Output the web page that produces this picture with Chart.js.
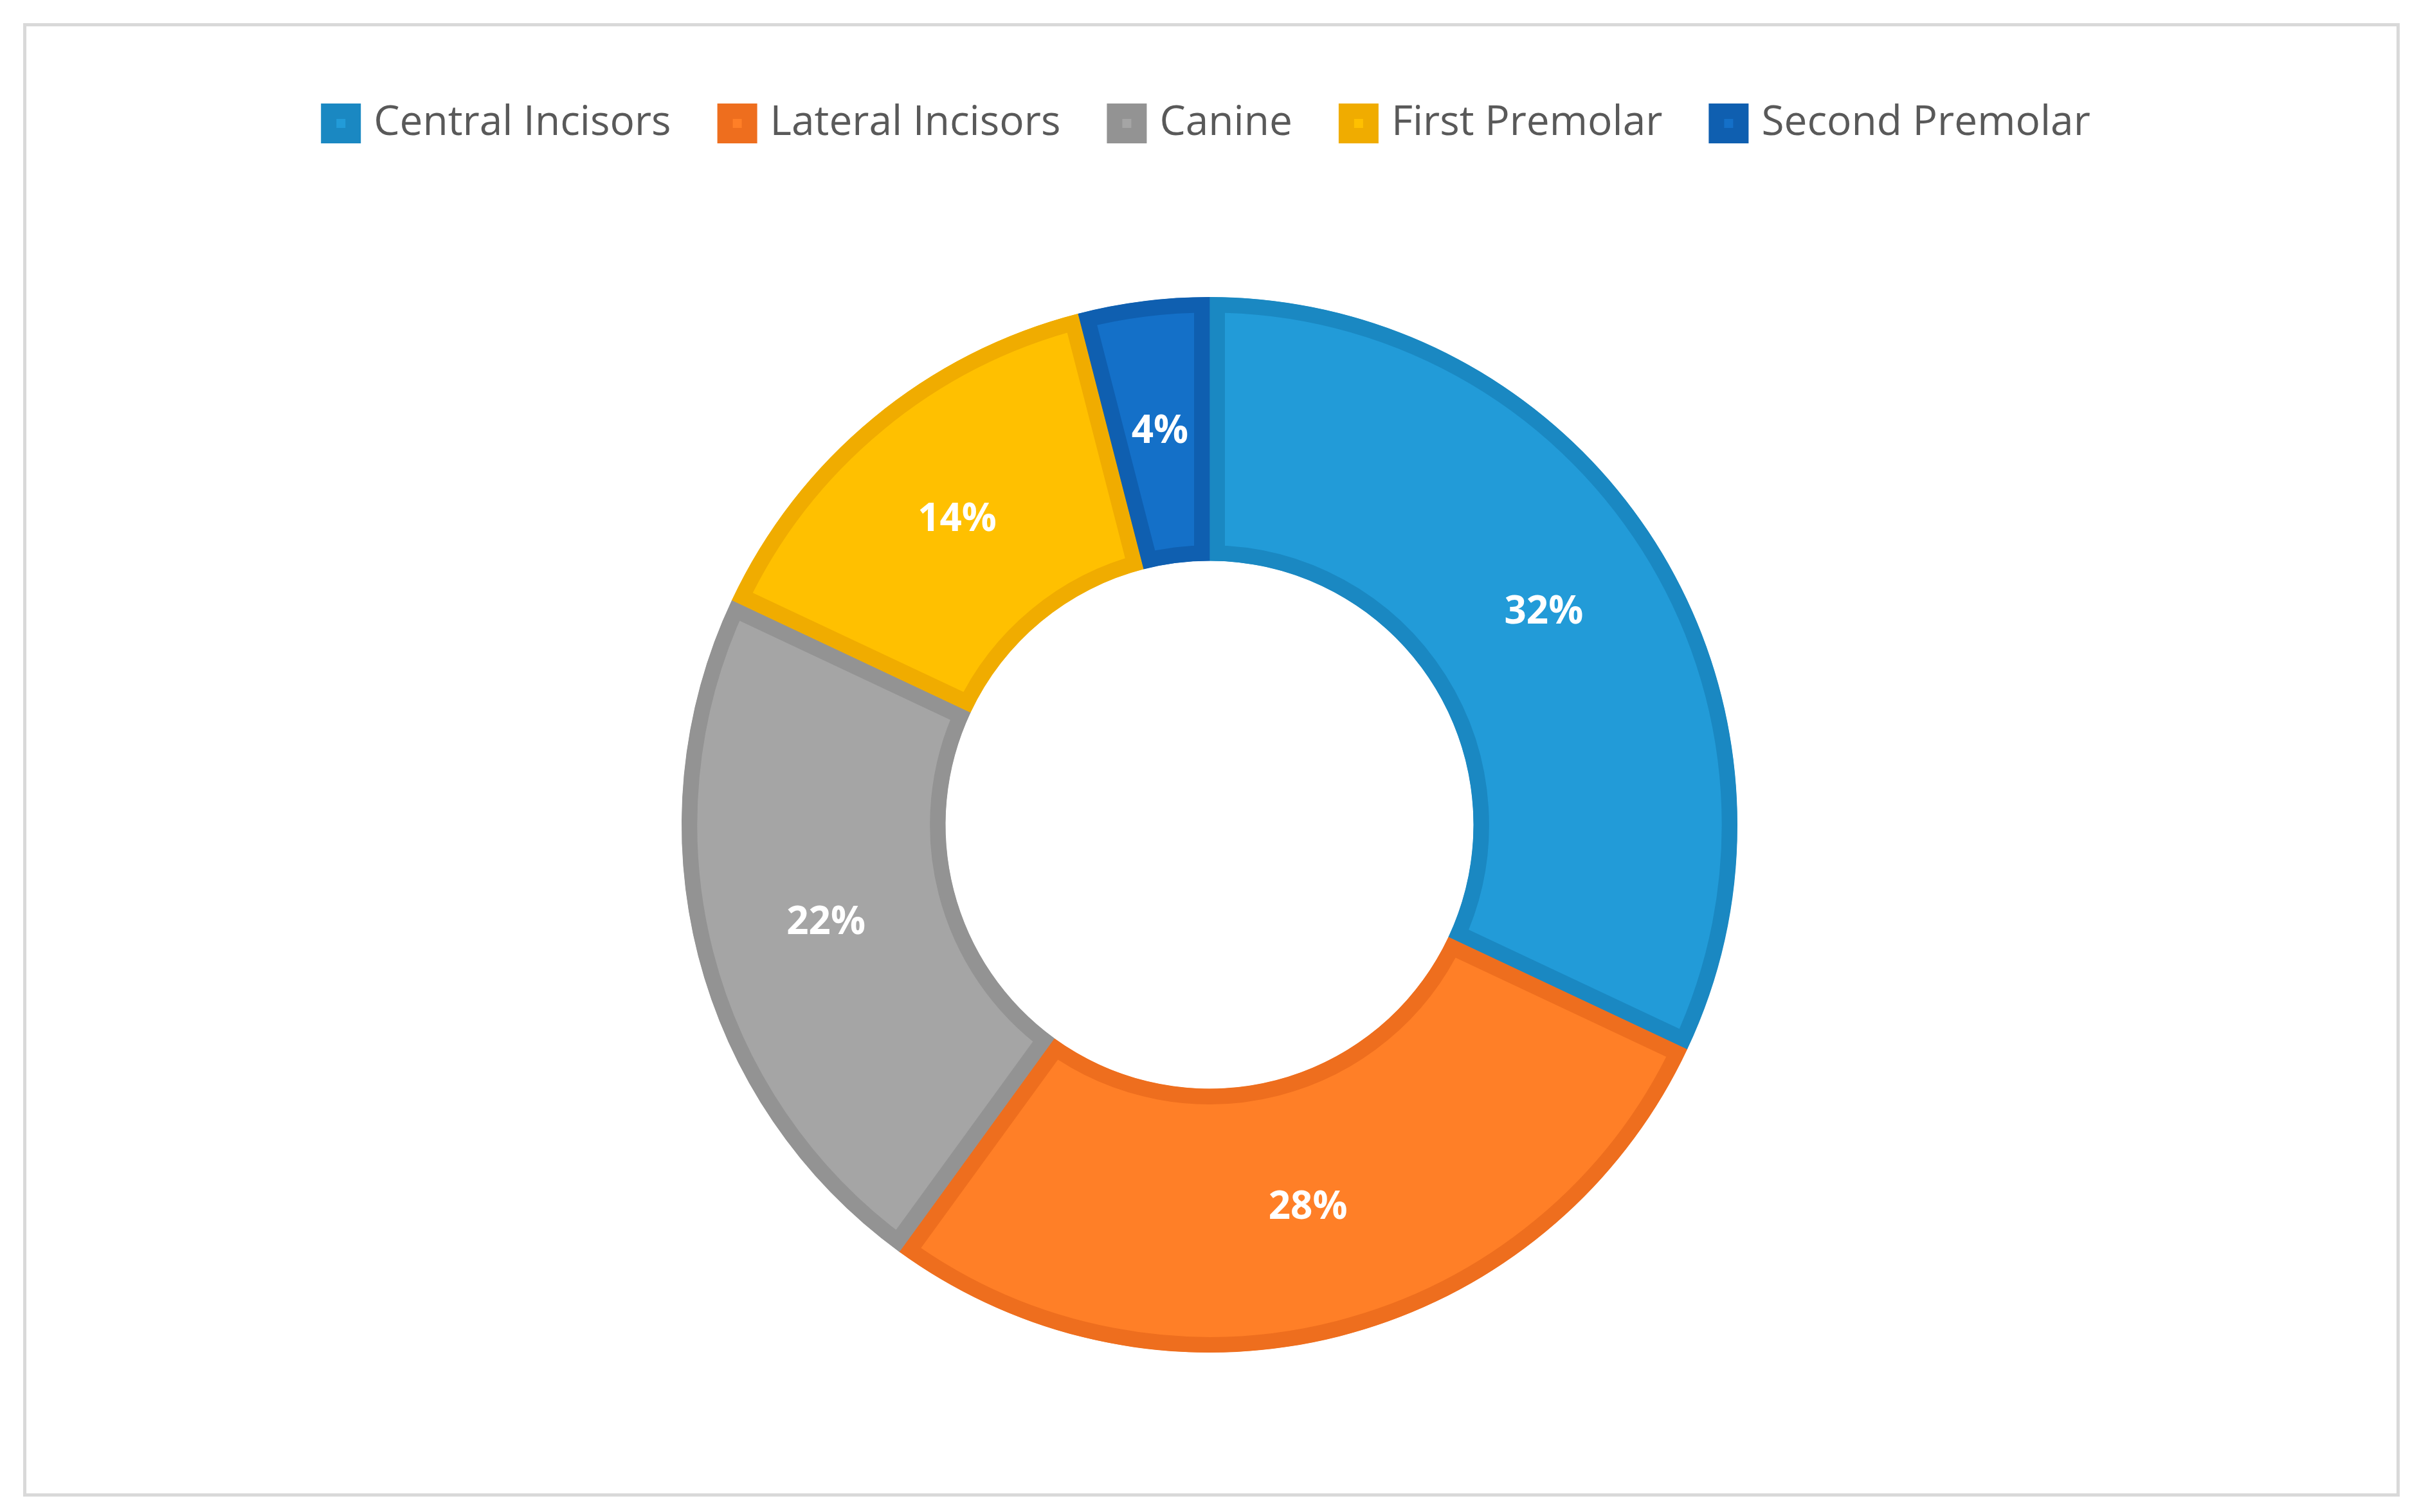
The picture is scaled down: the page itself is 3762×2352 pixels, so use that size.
<!DOCTYPE html>
<html><head><meta charset="utf-8">
<script src="https://cdn.jsdelivr.net/npm/chart.js@4"></script>
<style>
html,body{margin:0;padding:0;background:#fff;}
#frame{position:absolute;left:36px;top:36px;width:3686px;height:2282px;border:5px solid #d9d9d9;}
#wrap{position:absolute;left:0;top:0;width:3762px;height:2352px;}
</style></head><body>
<div id="frame"></div>
<div id="wrap"><canvas id="c"></canvas></div>
<script>
const categories = ["Central Incisors","Lateral Incisors","Canine","First Premolar","Second Premolar"];
const values = [32,28,22,14,4];
const fillColors = ["#229BD8","#FF7F27","#A5A5A5","#FFC000","#1470C8"];
const edgeColors = ["#1A88C2","#EE6E1E","#939393","#F0AC00","#0F5FB0"];

const labelPlugin = {
  id:'pctLabels',
  afterDatasetsDraw(chart){
    const ctx = chart.ctx;
    const meta = chart.getDatasetMeta(0);
    ctx.save();
    ctx.fillStyle = '#fff';
    ctx.font = 'bold 60px "Open Sans", sans-serif';
    ctx.textAlign = 'center';
    ctx.textBaseline = 'middle';
    meta.data.forEach((arc,i)=>{
      const p = arc.tooltipPosition();
      ctx.fillText(values[i]+'%', p.x, p.y);
    });
    ctx.restore();
  }
};

new Chart(document.getElementById('c'),{
  type:'doughnut',
  data:{labels:categories,datasets:[{data:values,backgroundColor:fillColors,borderColor:edgeColors,borderWidth:24,borderAlign:'inner'}]},
  options:{
    responsive:true,maintainAspectRatio:false,animation:false,
    radius:821,cutout:'50%',
    layout:{padding:{top:76,bottom:20}},
    plugins:{
      legend:{position:'top',labels:{font:{size:64,family:'"Open Sans", sans-serif'},color:'#595959',boxWidth:38,boxHeight:38,padding:84}},
      tooltip:{enabled:false}
    }
  },
  plugins:[labelPlugin]
});
</script></body></html>
